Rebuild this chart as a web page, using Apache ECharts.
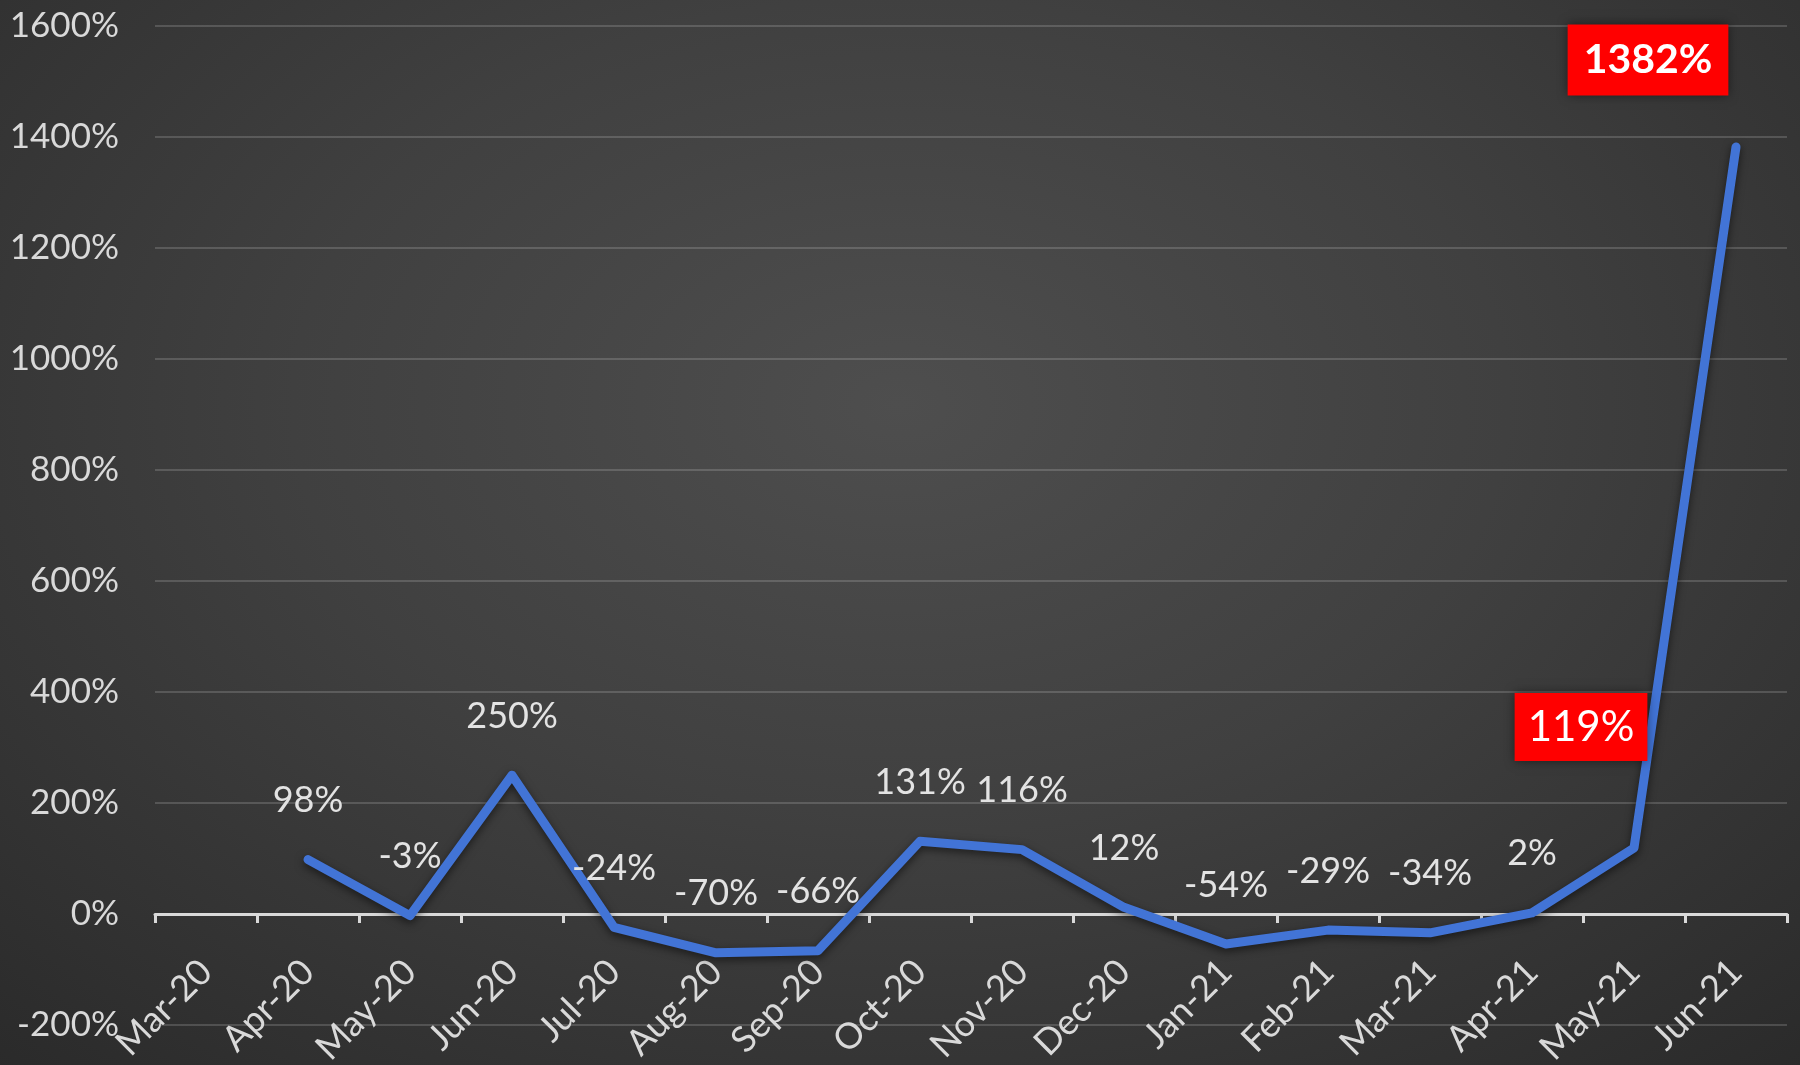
<!DOCTYPE html>
<html>
<head>
<meta charset="utf-8">
<script src="https://cdn.jsdelivr.net/npm/echarts@6/dist/echarts.min.js"></script>
<style>
  html, body { margin: 0; padding: 0; }
  #chart {
    width: 1800px; height: 1065px;
    background: radial-gradient(ellipse 75% 85% at 50% 38%, #4e4e4e 0%, #404040 45%, #2a2a2a 100%);
  }
</style>
</head>
<body>
<div id="chart"></div>
<script>
const categories = ['Mar-20','Apr-20','May-20','Jun-20','Jul-20','Aug-20','Sep-20','Oct-20','Nov-20','Dec-20','Jan-21','Feb-21','Mar-21','Apr-21','May-21','Jun-21'];
const growthPct = [null, 98, -3, 250, -24, -70, -66, 131, 116, 12, -54, -29, -34, 2, 119, 1382];
const highlighted = ['May-21', 'Jun-21'];
const yTicks = { min: -200, max: 1600, interval: 200 };

const FONT = 'Lato';
const GRID = { left: 155, right: 13, top: 26, bottom: 40 };
const CHART_H = 1065;
// place the category axis at the y=0 line: shift it up from the grid bottom
const plotH = CHART_H - GRID.top - GRID.bottom;
const zeroFromBottom = plotH * (0 - yTicks.min) / (yTicks.max - yTicks.min);

const highlightStyle = {
  'May-21': { offset: [-53, -121], fontSize: 42, fontWeight: 'normal', padding: [14, 13, 12, 13] },
  'Jun-21': { offset: [-88, -87], fontSize: 41, fontWeight: 'bold', padding: [16, 16, 14, 16] }
};

const seriesData = growthPct.map((v, i) => {
  const cat = categories[i];
  if (highlighted.indexOf(cat) >= 0) {
    const h = highlightStyle[cat];
    return {
      value: v,
      label: {
        position: 'inside',
        offset: h.offset,
        color: '#ffffff',
        fontFamily: FONT,
        fontSize: h.fontSize,
        fontWeight: h.fontWeight,
        backgroundColor: '#ff0000',
        padding: h.padding,
        shadowColor: 'rgba(0,0,0,0.5)',
        shadowBlur: 10
      }
    };
  }
  return v;
});

const chart = echarts.init(document.getElementById('chart'), null, { renderer: 'canvas' });
chart.setOption({
  backgroundColor: 'transparent',
  animation: false,
  grid: Object.assign({ containLabel: false, outerBoundsMode: 'none' }, GRID),
  xAxis: {
    type: 'category',
    data: categories,
    boundaryGap: true,
    position: 'bottom',
    offset: -zeroFromBottom,
    axisLine: { onZero: false, lineStyle: { color: '#d9d9d9', width: 3 } },
    axisTick: { show: true, length: 9, lineStyle: { color: '#d9d9d9', width: 3 } },
    axisLabel: {
      rotate: 45,
      margin: 52,
      color: '#d9d9d9',
      fontFamily: FONT,
      fontSize: 36,
      interval: 0
    },
    splitLine: { show: false }
  },
  yAxis: {
    type: 'value',
    min: yTicks.min,
    max: yTicks.max,
    interval: yTicks.interval,
    axisLine: { show: false },
    axisTick: { show: false },
    axisLabel: {
      formatter: v => v + '%',
      color: '#d9d9d9',
      fontFamily: FONT,
      fontSize: 35,
      margin: 36
    },
    splitLine: { lineStyle: { color: 'rgba(255,255,255,0.16)', width: 2 } }
  },
  series: [{
    type: 'line',
    data: seriesData,
    symbol: 'circle',
    symbolSize: 2,
    showSymbol: true,
    itemStyle: { color: '#4274d6' },
    lineStyle: {
      color: '#4274d6', width: 9, cap: 'round', join: 'round',
      shadowColor: 'rgba(0,0,0,0.55)', shadowBlur: 8, shadowOffsetY: 3
    },
    label: {
      show: true,
      position: 'top',
      distance: 40,
      color: '#e3e3e3',
      fontFamily: FONT,
      fontSize: 36,
      formatter: p => p.value + '%'
    }
  }]
});
</script>
</body>
</html>
